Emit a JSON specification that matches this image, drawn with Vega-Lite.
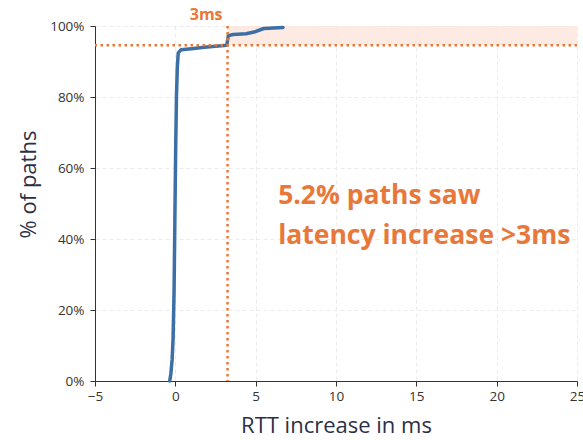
{
  "$schema": "https://vega.github.io/schema/vega-lite/v6.json",
  "autosize": "none",
  "width": 482,
  "height": 355,
  "padding": {"left": 95, "top": 26, "right": 6, "bottom": 59},
  "config": {
    "font": "Open Sans",
    "view": {"stroke": null},
    "axis": {
      "grid": true,
      "gridColor": "#ebebeb",
      "gridDash": [4, 3],
      "gridWidth": 1,
      "domainColor": "#333333",
      "tickColor": "#333333",
      "labelColor": "#333333",
      "labelFontSize": 13.5,
      "labelFlush": false,
      "titleColor": "#2b3048",
      "titleFontSize": 22,
      "titleFontWeight": "normal"
    }
  },
  "datasets": {
    "cdf": [
      {"rtt": -0.35, "pct": 0},
      {"rtt": -0.28, "pct": 2},
      {"rtt": -0.2, "pct": 6},
      {"rtt": -0.14, "pct": 12},
      {"rtt": -0.08, "pct": 25},
      {"rtt": -0.03, "pct": 45},
      {"rtt": 0.02, "pct": 65},
      {"rtt": 0.07, "pct": 80},
      {"rtt": 0.12, "pct": 88},
      {"rtt": 0.18, "pct": 92.4},
      {"rtt": 0.35, "pct": 93.3},
      {"rtt": 1.0, "pct": 93.6},
      {"rtt": 1.8, "pct": 94.0},
      {"rtt": 2.5, "pct": 94.3},
      {"rtt": 3.2, "pct": 94.6},
      {"rtt": 3.3, "pct": 97.3},
      {"rtt": 3.6, "pct": 97.6},
      {"rtt": 4.4, "pct": 97.8},
      {"rtt": 4.9, "pct": 98.3},
      {"rtt": 5.5, "pct": 99.3},
      {"rtt": 6.7, "pct": 99.6}
    ],
    "shade": [{"x1": 3.25, "x2": 25, "y1": 94.6, "y2": 100}],
    "threshold": [{"rtt": 3.25, "pct": 94.6, "label": "3ms"}],
    "notes": [
      {"rtt": 6.4, "pct": 49.8, "text": "5.2% paths saw"},
      {"rtt": 6.4, "pct": 38.6, "text": "latency increase >3ms"}
    ]
  },
  "layer": [
    {
      "data": {"name": "shade"},
      "mark": {"type": "rect", "color": "#fde6dc", "opacity": 0.8},
      "encoding": {
        "x": {"field": "x1", "type": "quantitative", "scale": {"domain": [-5, 25], "nice": false}, "axis": {"title": "RTT increase in ms", "values": [-5, 0, 5, 10, 15, 20, 25], "titlePadding": 13, "labelPadding": 3}},
        "x2": {"field": "x2"},
        "y": {"field": "y1", "type": "quantitative", "scale": {"domain": [0, 100], "nice": false}, "axis": {"title": "% of paths", "values": [0, 20, 40, 60, 80, 100], "labelExpr": "datum.value + '%'", "labelPadding": 6, "titleX": -67, "titleY": 158, "titleAlign": "center", "titleBaseline": "middle"}},
        "y2": {"field": "y2"}
      }
    },
    {
      "data": {"name": "cdf"},
      "mark": {"type": "line", "color": "#3c6fa6", "strokeWidth": 3.5, "strokeCap": "round", "strokeJoin": "round"},
      "encoding": {
        "x": {"field": "rtt", "type": "quantitative"},
        "y": {"field": "pct", "type": "quantitative"}
      }
    },
    {
      "data": {"name": "threshold"},
      "mark": {"type": "rule", "color": "#e8783a", "strokeWidth": 2.5, "strokeDash": [2.5, 3.5]},
      "encoding": {"y": {"field": "pct", "type": "quantitative"}}
    },
    {
      "data": {"name": "threshold"},
      "mark": {"type": "rule", "color": "#e8783a", "strokeWidth": 2.5, "strokeDash": [2.5, 3.5]},
      "encoding": {"x": {"field": "rtt", "type": "quantitative"}}
    },
    {
      "data": {"name": "threshold"},
      "mark": {"type": "text", "color": "#e8783a", "fontSize": 16, "fontWeight": "bold", "align": "right", "baseline": "middle", "dy": -11, "dx": -5},
      "encoding": {
        "x": {"field": "rtt", "type": "quantitative"},
        "y": {"datum": 100, "type": "quantitative"},
        "text": {"field": "label"}
      }
    },
    {
      "data": {"name": "notes"},
      "mark": {"type": "text", "color": "#e8783a", "fontSize": 26.5, "fontWeight": "bold", "align": "left", "baseline": "alphabetic"},
      "encoding": {
        "x": {"field": "rtt", "type": "quantitative"},
        "y": {"field": "pct", "type": "quantitative"},
        "text": {"field": "text"}
      }
    }
  ]
}
